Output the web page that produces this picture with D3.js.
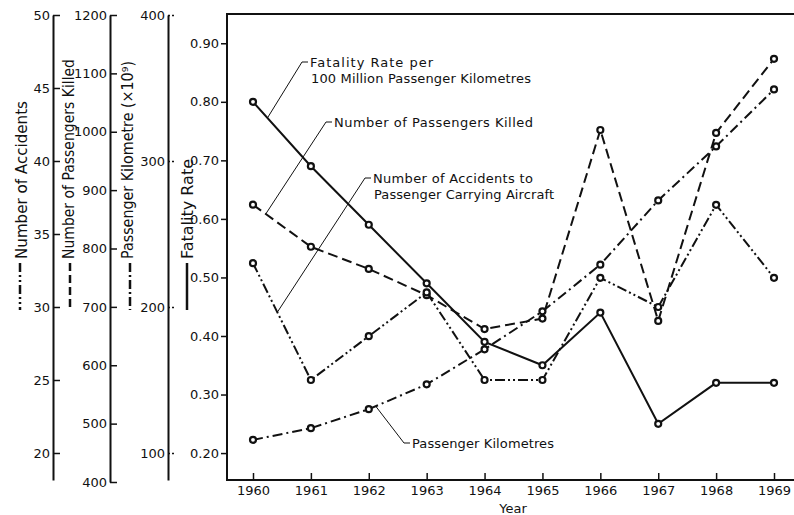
<!DOCTYPE html>
<html>
<head>
<meta charset="utf-8">
<script src="https://cdn.jsdelivr.net/npm/d3@7"></script>
<style>
  body { margin: 0; background: #fff; }
  svg { display: block; font-family: "DejaVu Sans", sans-serif; }
</style>
</head>
<body>
<div id="container"></div>
<script>
const years = [1960, 1961, 1962, 1963, 1964, 1965, 1966, 1967, 1968, 1969];
const accidents = [33, 25, 28, 31, 25, 25, 32, 30, 37, 32];
const passengersKilled = [875, 803, 765, 720, 662, 680, 1003, 676, 998, 1125];
const passengerKm = [109, 117, 130, 147, 171, 197, 229, 273, 310, 349];
const fatalityRate = [0.80, 0.69, 0.59, 0.49, 0.39, 0.35, 0.44, 0.25, 0.32, 0.32];

const accidentTicks = [20, 25, 30, 35, 40, 45, 50];
const killedTicks = [400, 500, 600, 700, 800, 900, 1000, 1100, 1200];
const pkmTicks = [100, 200, 300, 400];
const rateTicks = [0.20, 0.30, 0.40, 0.50, 0.60, 0.70, 0.80, 0.90];

const ink = "#111";
const font = "DejaVu Sans";
const width = 794, height = 515;

const svg = d3.select("#container")
  .append("svg")
  .attr("width", width)
  .attr("height", height);

// plot frame
const plot = { left: 227, top: 14, right: 800, bottom: 480 };

const x = d3.scaleLinear().domain([1960, 1969]).range([253, 774]);
const yRate = d3.scaleLinear().domain([0.154, 0.95]).range([480, 14]);
const yAcc = d3.scaleLinear().domain([18.15, 50]).range([480, 15]);
const yKilled = d3.scaleLinear().domain([400, 1200]).range([482, 15]);
const yPkm = d3.scaleLinear().domain([81.5, 400]).range([480, 15]);

svg.append("path")
  .attr("d", `M${plot.right},${plot.top}H${plot.left}V${plot.bottom}H${plot.right}`)
  .attr("fill", "none")
  .attr("stroke", ink)
  .attr("stroke-width", 2);

// left-hand axes: labels on the left, ticks pointing right
function sideAxis(scale, ticks, xpos, fmt, dashedTicks) {
  const g = svg.append("g")
    .attr("transform", `translate(${xpos},0)`)
    .call(d3.axisLeft(scale).tickValues(ticks).tickFormat(fmt).tickSizeOuter(0).tickSize(0).tickPadding(3));
  g.attr("font-family", font).attr("font-size", 13);
  g.select(".domain").attr("stroke", ink).attr("stroke-width", 2);
  g.selectAll(".tick line")
    .attr("x1", 0).attr("x2", 7)
    .attr("stroke", ink).attr("stroke-width", 1.5)
    .attr("stroke-dasharray", dashedTicks ? "2,2" : null);
  g.selectAll(".tick text").attr("fill", ink);
  return g;
}

sideAxis(yAcc, accidentTicks, 53, d3.format("d"));
sideAxis(yKilled, killedTicks, 110, d3.format("d"));
sideAxis(yPkm, pkmTicks, 168, d3.format("d"), true);

// fatality rate axis on frame
const rateAxis = svg.append("g")
  .attr("transform", `translate(${plot.left},0)`)
  .call(d3.axisLeft(yRate).tickValues(rateTicks).tickFormat(d3.format(".2f")).tickSizeOuter(0).tickSize(6).tickPadding(2));
rateAxis.attr("font-family", font).attr("font-size", 13);
rateAxis.select(".domain").remove();
rateAxis.selectAll(".tick line").attr("stroke", ink).attr("stroke-width", 1.5);
rateAxis.selectAll(".tick text").attr("fill", ink);

// year axis, ticks pointing up
const xAxis = svg.append("g")
  .attr("transform", `translate(0,${plot.bottom})`)
  .call(d3.axisBottom(x).tickValues(years).tickFormat(d3.format("d")).tickSize(0).tickPadding(6));
xAxis.attr("font-family", font).attr("font-size", 13);
xAxis.select(".domain").remove();
xAxis.selectAll(".tick line").attr("y1", 0).attr("y2", -7).attr("stroke", ink).attr("stroke-width", 1.5);
xAxis.selectAll(".tick text").attr("fill", ink);

svg.append("text")
  .attr("x", 513)
  .attr("y", 513)
  .attr("text-anchor", "middle")
  .attr("fill", ink)
  .style("font-size", "13px")
  .text("Year");

// rotated axis titles with a line-style key under each
const titles = [
  { text: "Number of Accidents", x: 27, len: 158, dash: "9,3,2,3,2,3", kx: 20 },
  { text: "Number of Passengers Killed", x: 74, len: 200, dash: "8,4", kx: 70 },
  { text: "Passenger Kilometre (×10⁹)", x: 133, len: 198, dash: "9,3,2,3", kx: 130 },
  { text: "Fatality Rate", x: 193, len: 100, dash: null, kx: 187 }
];

titles.forEach(t => {
  svg.append("text")
    .attr("transform", `translate(${t.x},259) rotate(-90)`)
    .attr("fill", ink)
    .attr("textLength", t.len)
    .attr("lengthAdjust", "spacingAndGlyphs")
    .style("font-size", "15px")
    .text(t.text);

  svg.append("line")
    .attr("x1", t.kx).attr("x2", t.kx)
    .attr("y1", 263).attr("y2", 310)
    .attr("stroke", ink)
    .attr("stroke-width", 2.5)
    .attr("stroke-dasharray", t.dash);
});

// data lines
const series = [
  { key: "rate", values: fatalityRate, y: yRate, dash: null },
  { key: "killed", values: passengersKilled, y: yKilled, dash: "10,5" },
  { key: "pkm", values: passengerKm, y: yPkm, dash: "10,4,2,4" },
  { key: "acc", values: accidents, y: yAcc, dash: "10,3,2,3,2,3" }
];

series.forEach(s => {
  const pts = years.map((yr, i) => [x(yr), s.y(s.values[i])]);
  svg.append("path")
    .datum(pts)
    .attr("fill", "none")
    .attr("stroke", ink)
    .attr("stroke-width", 2)
    .attr("stroke-dasharray", s.dash)
    .attr("d", d3.line());
});

series.forEach(s => {
  svg.append("g")
    .selectAll("circle")
    .data(years)
    .join("circle")
    .attr("cx", d => x(d))
    .attr("cy", (d, i) => s.y(s.values[i]))
    .attr("r", 3)
    .attr("fill", "#fff")
    .attr("stroke", ink)
    .attr("stroke-width", 2.2);
});

// annotations with leader lines
function along(values, scale, i, t) {
  return [x(years[i] + t), scale(values[i] + (values[i + 1] - values[i]) * t)];
}

const notes = [
  { lines: ["Fatality Rate per", "100 Million Passenger Kilometres"], lens: [123, 220], tx: 310, ty: 67,
    to: along(fatalityRate, yRate, 0, 0.25) },
  { lines: ["Number of Passengers Killed"], lens: [199], tx: 334, ty: 127,
    to: along(passengersKilled, yKilled, 0, 0.22) },
  { lines: ["Number of Accidents to", "Passenger Carrying Aircraft"], lens: [160, 180], tx: 373, ty: 183,
    to: along(accidents, yAcc, 0, 0.42) },
  { lines: ["Passenger Kilometres"], lens: [142], tx: 412, ty: 448,
    to: along(passengerKm, yPkm, 2, 0.12) }
];

notes.forEach(n => {
  const hookY = n.ty - 5;
  const hx = n.tx - 8;
  svg.append("path")
    .attr("d", `M${n.tx - 2},${hookY}H${hx}L${n.to[0]},${n.to[1]}`)
    .attr("fill", "none")
    .attr("stroke", ink)
    .attr("stroke-width", 1);

  n.lines.forEach((ln, i) => {
    svg.append("text")
      .attr("x", n.tx + (i > 0 ? 1 : 0))
      .attr("y", n.ty + i * 16)
      .attr("fill", ink)
      .attr("textLength", n.lens[i])
      .attr("lengthAdjust", "spacing")
      .style("font-size", "13px")
      .text(ln);
  });
});
</script>
</body>
</html>
